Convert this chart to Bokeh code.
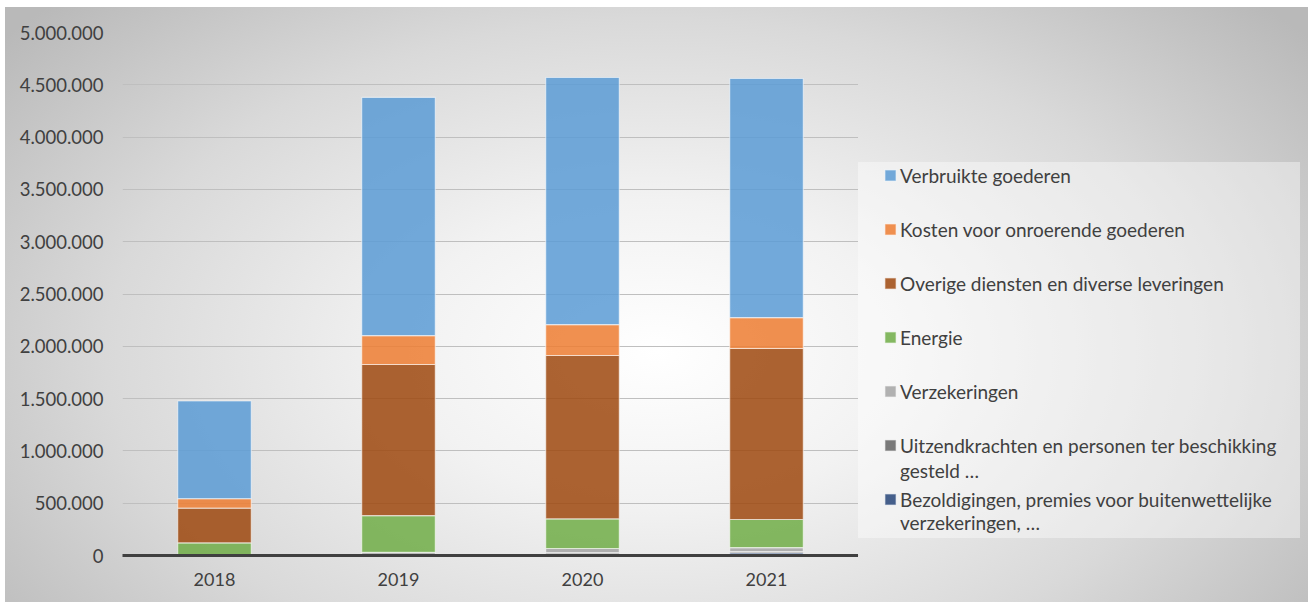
from bokeh.plotting import figure
from bokeh.layouts import row
from bokeh.models import Legend, LegendItem, FixedTicker, CustomJSTickFormatter
from bokeh.embed import file_html
from bokeh.resources import INLINE

years = ["2018", "2019", "2020", "2021"]
series = [
    "Bezoldigingen, premies voor buitenwettelijke",
    "Uitzendkrachten en personen ter beschikking",
    "Verzekeringen",
    "Energie",
    "Overige diensten en diverse leveringen",
    "Kosten voor onroerende goederen",
    "Verbruikte goederen",
]
second_lines = ["gesteld …", "verzekeringen, …"]
bezoldigingen = [3000, 5000, 15000, 25000]
uitzend = [2000, 5000, 12000, 13000]
verzekeringen = [3000, 20000, 40000, 38000]
energie = [113000, 352000, 284000, 268000]
overige = [332000, 1444000, 1561000, 1635000]
kosten = [90000, 277000, 296000, 296000]
verbruikte = [934000, 2276000, 2362000, 2285000]
colors = ["#264478", "#636363", "#a5a5a5", "#70ad47", "#9e480e", "#ed7d31", "#5b9bd5"]
yticks = [0, 500000, 1000000, 1500000, 2000000, 2500000, 3000000, 3500000, 4000000, 4500000, 5000000]

data = dict(year=years, s0=bezoldigingen, s1=uitzend, s2=verzekeringen, s3=energie,
            s4=overige, s5=kosten, s6=verbruikte)
keys = ["s0", "s1", "s2", "s3", "s4", "s5", "s6"]

FONT = "Lato"
TXT = "#404040"
BAR = dict(fill_alpha=0.85, line_color="white", line_alpha=0.55, line_width=1.2)

p = figure(x_range=years, y_range=(0, 5000000), width=858, height=602,
           output_backend="svg", toolbar_location=None,
           min_border_left=122, min_border_top=32, min_border_bottom=47, min_border_right=0)
p.background_fill_alpha = 0
p.border_fill_alpha = 0
p.outline_line_color = None

rs = p.vbar_stack(keys, x="year", width=0.4, source=data, color=colors, **BAR)

p.xgrid.grid_line_color = None
p.ygrid.grid_line_color = "#bfbfbf"
p.ygrid.grid_line_width = 1
p.yaxis.ticker = FixedTicker(ticks=yticks)
p.yaxis.formatter = CustomJSTickFormatter(code="return Math.round(tick).toString().replace(/\\B(?=(\\d{3})+(?!\\d))/g, '.');")
p.yaxis.axis_line_color = None
p.yaxis.major_tick_line_color = None
p.yaxis.minor_tick_line_color = None
p.yaxis.major_label_standoff = 13
p.xaxis.axis_line_color = "#404040"
p.xaxis.axis_line_width = 3
p.xaxis.major_tick_line_color = None
p.xaxis.minor_tick_line_color = None
p.xaxis.major_label_standoff = 11
for ax in (p.xaxis[0], p.yaxis[0]):
    ax.major_label_text_font = FONT
    ax.major_label_text_color = TXT
p.yaxis.major_label_text_font_size = "18.5px"
p.xaxis.major_label_text_font_size = "18px"

# legend panel (its frame spans y 32..555 like the main chart)
q = figure(width=450, height=602, x_range=(0, 1), y_range=(0, 1),
           x_axis_location=None, y_axis_location=None,
           output_backend="svg", toolbar_location=None,
           min_border_left=0, min_border_right=0, min_border_top=32, min_border_bottom=47)
q.grid.visible = False
q.background_fill_alpha = 0
q.border_fill_alpha = 0
q.outline_line_color = None

# swatch renderers for the legend, kept outside the visible range of this panel
swatches = [q.vbar(x=[-5], top=[-5], bottom=[-6], width=1, color=colors[i], **BAR) for i in range(7)]
dummy = q.scatter(x=[-5], y=[-5], alpha=0, size=1)

bg = Legend(items=[LegendItem(label=" ", renderers=[dummy])], location=(0, 17))
bg.padding = 0
bg.margin = 0
bg.glyph_width = 2
bg.glyph_height = 1
bg.label_standoff = 0
bg.label_width = 440
bg.label_height = 376
bg.background_fill_color = "white"
bg.background_fill_alpha = 0.4
bg.border_line_color = None
q.add_layout(bg, "center")

def style(lg):
    lg.label_text_font = FONT
    lg.label_text_font_size = "19px"
    lg.label_text_color = TXT
    lg.glyph_width = 14
    lg.glyph_height = 14
    lg.label_standoff = 3
    lg.label_height = 24
    lg.padding = 0
    lg.margin = 0
    lg.background_fill_alpha = 0
    lg.border_line_color = None

items = [LegendItem(label=series[i], renderers=[swatches[i]]) for i in range(6, -1, -1)]
legend = Legend(items=items, location=(25, 44), orientation="vertical")
style(legend)
legend.spacing = 30
q.add_layout(legend, "center")

items2 = [LegendItem(label=t, renderers=[dummy]) for t in second_lines]
legend2 = Legend(items=items2, location=(25, 21), orientation="vertical")
style(legend2)
legend2.spacing = 28
q.add_layout(legend2, "center")

layout = row(p, q, spacing=0)
layout.styles = {"background": "radial-gradient(ellipse 64% 85% at 50% 58%, #ffffff 0%, #f2f2f2 30%, #d9d9d9 66%, #b9b9b9 100%) 5px 7px / calc(100% - 5px) calc(100% - 7px) no-repeat, #ffffff"}

open("out.html", "w").write(file_html(layout, INLINE))
